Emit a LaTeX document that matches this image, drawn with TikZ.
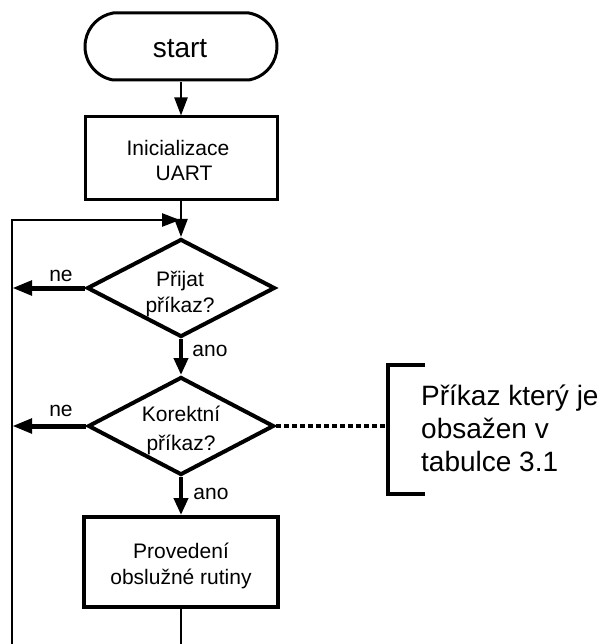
\documentclass[tikz,border=0pt]{standalone}
\usepackage{fontspec}
\setmainfont{Liberation Sans}
\usetikzlibrary{arrows.meta,shapes.geometric,shapes.misc}
\begin{document}
\begin{tikzpicture}[x=1pt, y=-1pt,
  chart/.style={font=\fontsize{21}{26}\selectfont, align=center, inner sep=0pt},
  answer/.style={font=\fontsize{21}{26}\selectfont, inner sep=0pt},
  note/.style={font=\fontsize{28}{30}\selectfont, inner sep=0pt, anchor=base west},
  termbox/.style={draw, line width=3pt, rounded rectangle, rounded rectangle arc length=160,
    minimum width=192pt, minimum height=67pt, inner sep=0pt},
  procbox/.style={draw, rectangle, minimum width=192pt, inner sep=0pt},
  decbox/.style={draw, diamond, line width=4pt, minimum width=188pt, minimum height=98pt, inner sep=0pt},
  flow/.style={line width=2.3pt, -{Triangle[length=18pt,width=13pt]}},
  boldflow/.style={line width=4pt, -{Triangle[length=17pt,width=14pt]}},
  exitflow/.style={line width=5pt, -{Triangle[length=20pt,width=14pt]}},
  wire/.style={line width=2pt},
  dottedlink/.style={line width=4pt, dash pattern=on 5pt off 3pt},
  bracketline/.style={line width=3.5pt}
]
\useasboundingbox (0,0) rectangle (604,644);

% shapes of the flow chart
\node[termbox] (start) at (181,46.5) {};
\node[font=\fontsize{28}{30}\selectfont, inner sep=0pt, anchor=base] (starttxt) at (180,58) {start};

\node[procbox, line width=3pt, minimum height=83pt] (init) at (181,158.5) {};
\node[chart, font=\fontsize{21}{25}\selectfont] (inittxt) at (178,160) {Inicializace\\\hspace*{12pt}UART};

\node[decbox] (ask) at (181,288) {};
\node[chart] (asktxt) at (180,294) {Přijat\\příkaz?};

\node[decbox, minimum width=186pt] (check) at (181,426) {};
\node[chart, font=\fontsize{21}{29}\selectfont] (checktxt) at (181,430) {Korektní\\příkaz?};

\node[procbox, line width=4pt, minimum width=194pt, minimum height=90pt] (serve) at (181,562) {};
\node[chart] (servetxt) at (181,566) {Provedení\\obslužné rutiny};

% branch labels
\node[answer] (no1) at (61,276) {ne};
\node[answer] (no2) at (61,411) {ne};
\node[answer] (yes1) at (210,351) {ano};
\node[answer] (yes2) at (211,494) {ano};

% annotation
\node[note] (note1) at (421,405) {Příkaz který je};
\node[note] (note2) at (421,438) {obsažen v};
\node[note] (note3) at (421,471) {tabulce 3.1};

% helper points
\coordinate (loopin) at (12,220);
\coordinate (joinpt) at (180,220);
\coordinate (loopbottom) at (12,644);
\coordinate (servebottom) at (181,644);
\coordinate (ne1) at (ask.west -| loopin);
\coordinate (ne2) at (check.west -| loopin);
\coordinate (notept) at (388,426);
\coordinate (brtop) at (388,365);
\coordinate (brbot) at (388,494);
\coordinate (brtopend) at (425,365);
\coordinate (brbotend) at (425,494);

% connectors
\draw[flow] (start) -- (init);
\draw[flow] (init) -- (ask);
\draw[flow, line width=2.6pt] (loopbottom) -- (loopin) -- (joinpt);
\draw[wire] (serve.south) -- (servebottom);
\draw[exitflow] (ask.west) -- (ne1);
\draw[exitflow] (check.west) -- (ne2);
\draw[boldflow] (ask) -- (check);
\draw[boldflow] (check) -- (serve);
\draw[dottedlink] (check.east) -- (notept);
\draw[bracketline] (brtopend) -- (brtop) -- (brbot) -- (brbotend);
\end{tikzpicture}
\end{document}
